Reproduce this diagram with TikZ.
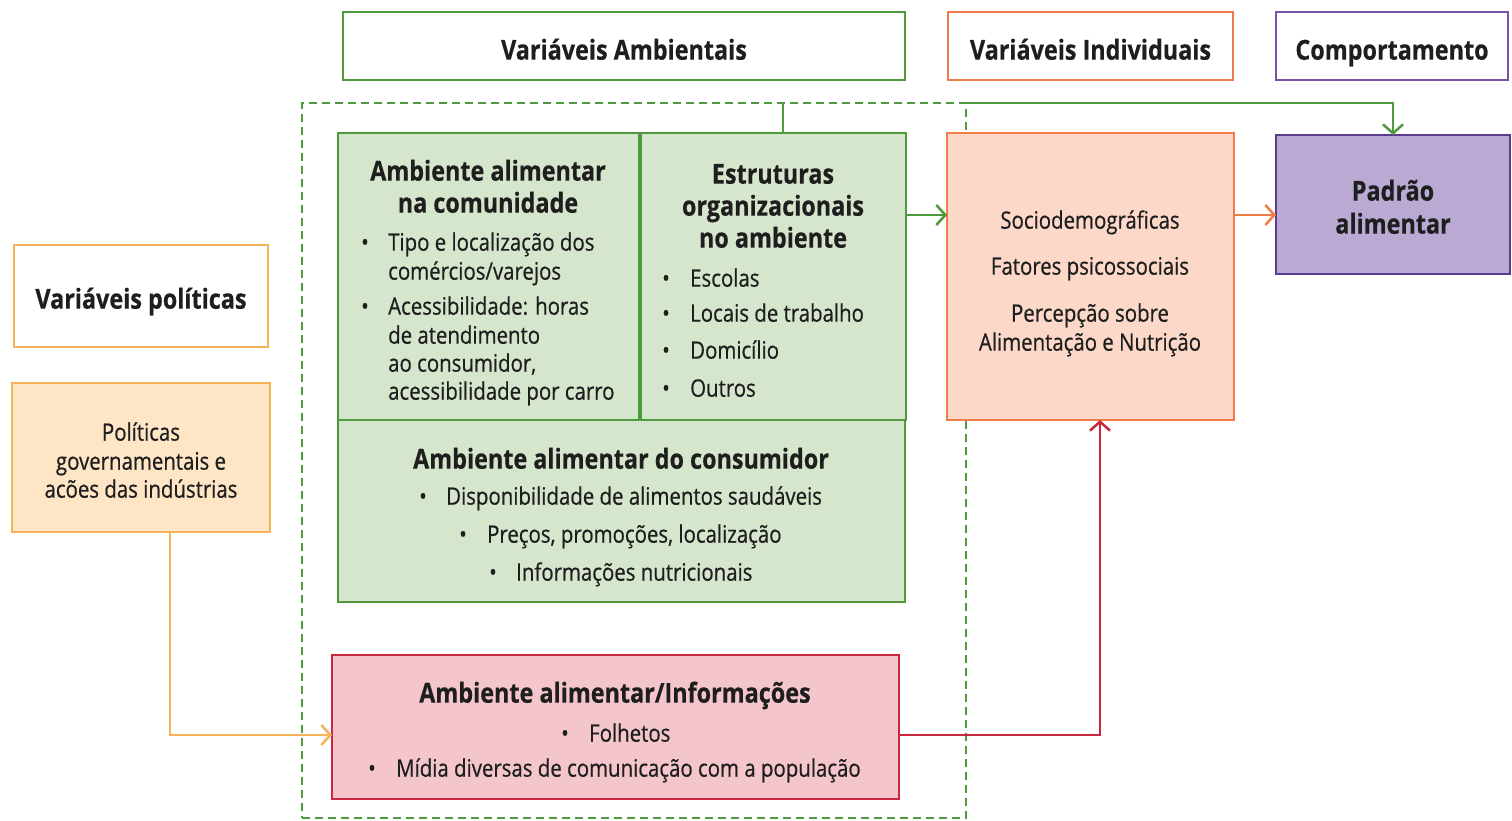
\documentclass[tikz,border=0pt]{standalone}
\usepackage{fontspec}
\setmainfont{Open Sans}[FakeStretch=0.85]
\newfontfamily\bodyfont{Open Sans}[FakeStretch=0.85, FakeBold=0.6]
\newfontfamily\titlefont{Open Sans}[FakeStretch=0.85, FakeBold=0.4]
\usetikzlibrary{arrows.meta}
\definecolor{ink}{HTML}{1E1E1E}
\definecolor{gdraw}{HTML}{4E9A3C}
\definecolor{gfill}{HTML}{D6E6CD}
\definecolor{odraw}{HTML}{F07C4A}
\definecolor{ofill}{HTML}{FCD8C8}
\definecolor{pdraw}{HTML}{5B3D8C}
\definecolor{phead}{HTML}{7B52A6}
\definecolor{pfill}{HTML}{BAA9D3}
\definecolor{ydraw}{HTML}{F6B45A}
\definecolor{yfill}{HTML}{FDE5C6}
\definecolor{rdraw}{HTML}{C9283E}
\definecolor{rfill}{HTML}{F4C6CB}
\newcommand\bulline[5]{%
  \node[bt] (#1b) at (#2,#4) {•};
  \node[bt,anchor=mid west] (#1) at (#3,#4) {#5};}
\begin{document}
\begin{tikzpicture}[x=1pt,y=-1pt,
  box/.style={rectangle, line width=2.5pt, inner sep=0, outer sep=0},
  tt/.style={font=\titlefont\bfseries\fontsize{27.5}{32}\selectfont, text=ink, inner sep=0, anchor=mid, yshift=-5pt},
  bt/.style={font=\bodyfont\fontsize{24}{28}\selectfont, text=ink, inner sep=0, anchor=mid, yshift=-5pt},
  tip/.style={-{Straight Barb[length=9pt,width=20pt]}},
  conn/.style={line width=2.5pt, tip}]
\useasboundingbox[fill=white] (0,0) rectangle (1512,821);

% header boxes
\node[box, draw=gdraw, fill=white, minimum width=562pt, minimum height=68pt] (va) at (624,46) {};
\node[box, draw=odraw, fill=white, minimum width=285pt, minimum height=68pt] (vi) at (1090.5,46) {};
\node[box, draw=phead, fill=white, minimum width=232pt, minimum height=68pt] (cp) at (1392,46) {};
\node[tt] (vat) at (624,52) {Variáveis Ambientais};
\node[tt] (vit) at (1090.5,52) {Variáveis Individuais};
\node[tt] (cpt) at (1392,52) {Comportamento};

% dashed environment frame
\node[box, draw=gdraw, line width=2pt, dash pattern=on 8pt off 5pt, minimum width=664pt, minimum height=715pt] (dash) at (634,460.5) {};

% green boxes
\node[box, draw=gdraw, fill=gfill, minimum width=301pt, minimum height=287pt] (comm) at (488.5,276.5) {};
\node[box, draw=gdraw, fill=gfill, minimum width=265pt, minimum height=287pt] (estr) at (773.5,276.5) {};
\node[box, draw=gdraw, fill=gfill, minimum width=567pt, minimum height=182pt] (cons) at (621.5,511) {};
\node[box, draw=rdraw, fill=rfill, minimum width=567pt, minimum height=144pt] (info) at (615.5,727) {};

% individual and behaviour
\node[box, draw=odraw, fill=ofill, minimum width=287pt, minimum height=287pt] (ind) at (1090.5,276.5) {};
\node[box, draw=pdraw, fill=pfill, minimum width=234pt, minimum height=139pt] (pad) at (1393,204.5) {};

% policy boxes
\node[box, draw=ydraw, fill=white, minimum width=254pt, minimum height=102pt] (vp) at (141,296) {};
\node[box, draw=ydraw, fill=yfill, minimum width=258pt, minimum height=149pt] (pol) at (141,457.5) {};

% texts: community
\node[tt] (c1) at (488,173) {Ambiente alimentar};
\node[tt] (c2) at (488,205) {na comunidade};
\bulline{c3}{365}{388}{243}{Tipo e localização dos}
\node[bt,anchor=mid west] (c4) at (388,272) {comércios/varejos};
\bulline{c5}{365}{388}{307}{Acessibilidade: horas}
\node[bt,anchor=mid west] (c6) at (388,336) {de atendimento};
\node[bt,anchor=mid west] (c7) at (388,364) {ao consumidor,};
\node[bt,anchor=mid west] (c8) at (388,392) {acessibilidade por carro};

% texts: structures
\node[tt] (e1) at (773,176) {Estruturas};
\node[tt] (e2) at (773,208) {organizacionais};
\node[tt] (e3) at (773,240) {no ambiente};
\bulline{e4}{666}{690}{279}{Escolas}
\bulline{e5}{666}{690}{314}{Locais de trabalho}
\bulline{e6}{666}{690}{351}{Domicílio}
\bulline{e7}{666}{690}{389}{Outros}

% texts: consumer
\node[tt] (k1) at (621,461) {Ambiente alimentar do consumidor};
\bulline{k2}{423}{446}{497}{Disponibilidade de alimentos saudáveis}
\bulline{k3}{463}{487}{535}{Preços, promoções, localização}
\bulline{k4}{493}{516}{573}{Informações nutricionais}

% texts: information
\node[tt] (i1) at (615,695) {Ambiente alimentar/Informações};
\bulline{i2}{565}{589}{734}{Folhetos}
\bulline{i3}{372}{396}{769}{Mídia diversas de comunicação com a população}

% texts: individual
\node[bt] (d1) at (1090,221) {Sociodemográficas};
\node[bt] (d2) at (1090,267) {Fatores psicossociais};
\node[bt] (d3) at (1090,314) {Percepção sobre};
\node[bt] (d4) at (1090,343) {Alimentação e Nutrição};

% texts: pattern
\node[tt] (p1) at (1393,193) {Padrão};
\node[tt] (p2) at (1393,226) {alimentar};

% texts: policy
\node[tt] (vpt) at (141,301) {Variáveis políticas};
\node[bt] (q1) at (141,433) {Políticas};
\node[bt] (q2) at (141,462) {governamentais e};
\node[bt] (q3) at (141,490) {acões das indústrias};

% connectors
\draw[gdraw, line width=2.5pt] ([xshift=9.5pt]estr.north) -- ([xshift=9.5pt]estr.north |- dash.north);
\draw[conn, gdraw] (dash.north east) -- (dash.north east -| pad.north) -- (pad.north);
\draw[conn, gdraw] ([yshift=61.5pt]estr.east) -- ([yshift=61.5pt]estr.east -| ind.west);
\draw[conn, odraw] ([yshift=61.5pt]ind.east) -- ([yshift=61.5pt]ind.east -| pad.west);
\draw[conn, ydraw] ([xshift=29pt]pol.south) |- ([yshift=-8pt]info.west);
\draw[conn, rdraw] ([yshift=-8pt]info.east) -| ([xshift=9.5pt]ind.south);
\end{tikzpicture}
\end{document}
